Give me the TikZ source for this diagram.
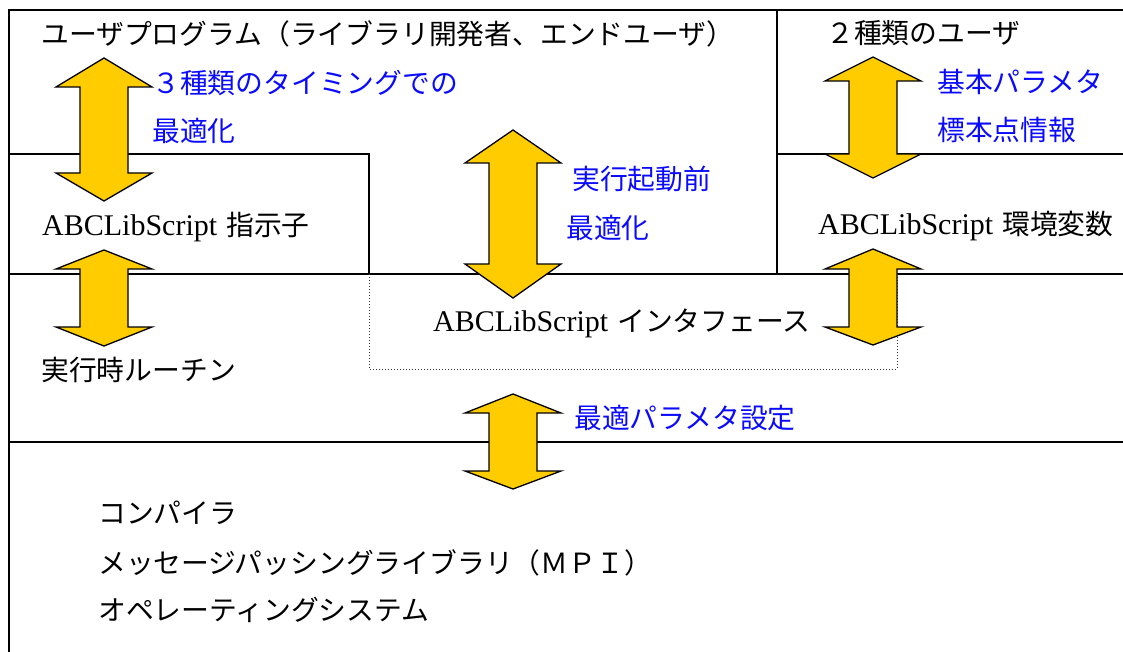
\documentclass[tikz,border=0pt]{standalone}
\usepackage{fontspec}
\setmainfont{Liberation Serif}
\newfontfamily\jpfont{Noto Sans CJK JP}
\newcommand\la[1]{{\fontsize{30}{30}\selectfont #1}}
\newcommand\ja[1]{{\jpfont\fontsize{27.8}{28}\selectfont #1}}
\newcommand\gap{\hspace*{9pt}}
\newcommand\dblarr[5]{%
  \draw[blockarrow] (#1,#2) -- (#1+48,#3) -- (#1+24,#3) -- (#1+24,#4) -- (#1+48,#4)
    -- (#1,#5) -- (#1-48,#4) -- (#1-24,#4) -- (#1-24,#3) -- (#1-48,#3) -- cycle;}
\definecolor{arrowyellow}{RGB}{255,204,0}
\definecolor{labelblue}{RGB}{10,10,255}
\tikzset{
  frame/.style={line width=1.6pt, black},
  dotline/.style={line width=1pt, dotted, black!80},
  blockarrow/.style={fill=arrowyellow, draw=black, line width=1.3pt, line join=miter},
  txt/.style={anchor=west, inner sep=0pt, text=black},
  btxt/.style={anchor=west, inner sep=0pt, text=labelblue}
}
\begin{document}
\begin{tikzpicture}[x=1pt,y=-1pt]
\useasboundingbox (0,0) rectangle (1123,652);
% frame lines
\draw[frame] (9,660) -- (9,10) -- (1130,10);
\draw[frame] (777,10) -- (777,274);
\draw[frame] (9,154) -- (369,154) -- (369,274);
\draw[frame] (777,154) -- (1130,154);
\draw[frame] (9,274) -- (1130,274);
\draw[frame] (9,442) -- (1130,442);
\draw[dotline] (369,274) -- (369,369) -- (897,369) -- (897,274);
% block arrows
\dblarr{104}{58}{87}{173}{201}
\dblarr{104}{250}{269}{327}{346}
\dblarr{513}{130}{163}{264}{298}
\dblarr{873}{57}{81}{154}{178}
\dblarr{873}{249}{269}{327}{345}
\dblarr{513}{394}{413}{471}{489}
% texts
\node[txt] (user) at (41,34) {\ja{ユーザプログラム（ライブラリ開発者、エンドユーザ）}};
\node[txt] (twousers) at (826,33) {\ja{２種類のユーザ}};
\node[btxt] (timing) at (152,83) {\ja{３種類のタイミングでの}};
\node[btxt] (opt1) at (152,131) {\ja{最適化}};
\node[btxt] (prerun) at (572,179) {\ja{実行起動前}};
\node[btxt] (opt2) at (566,228) {\ja{最適化}};
\node[btxt] (basic) at (937,82) {\ja{基本パラメタ}};
\node[btxt] (sample) at (937,130) {\ja{標本点情報}};
\node[btxt] (setparam) at (574,418) {\ja{最適パラメタ設定}};
\node[txt] (directive) at (42,227) {\la{ABCLibScript}\gap\ja{指示子}};
\node[txt] (envvar) at (818,226) {\la{ABCLibScript}\gap\ja{環境変数}};
\node[txt] (iface) at (433,323) {\la{ABCLibScript}\gap\ja{インタフェース}};
\node[txt] (runtime) at (41,370) {\ja{実行時ルーチン}};
\node[txt] (compiler) at (98,513) {\ja{コンパイラ}};
\node[txt] (mpi) at (98,563) {\ja{メッセージパッシングライブラリ（ＭＰＩ）}};
\node[txt] (os) at (98,610) {\ja{オペレーティングシステム}};
\end{tikzpicture}
\end{document}
